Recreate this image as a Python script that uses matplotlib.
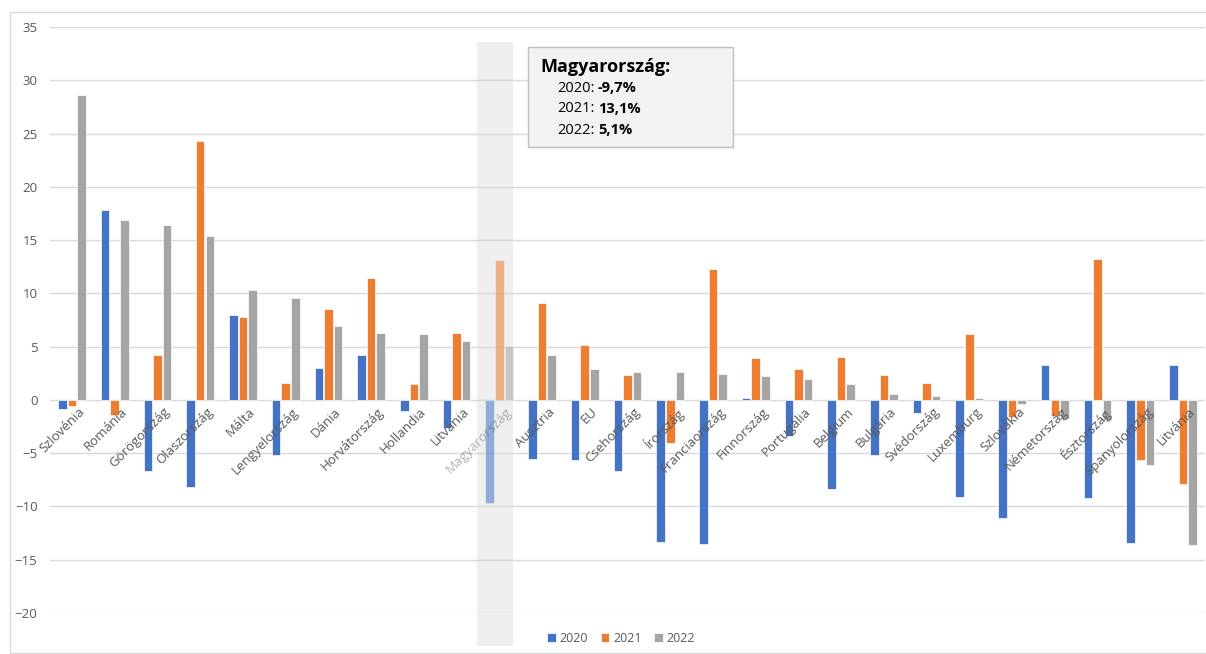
import matplotlib
matplotlib.use("Agg")
import matplotlib.pyplot as plt
import matplotlib.transforms as mtransforms
from matplotlib.patches import Rectangle
import numpy as np

plt.rcParams["font.family"] = ["Open Sans", "DejaVu Sans"]

countries = [
    "Szlovénia", "Románia", "Görögország", "Olaszország", "Málta",
    "Lengyelország", "Dánia", "Horvátország", "Hollandia", "Litvánia",
    "Magyarország", "Ausztria", "EU", "Csehország", "Írország",
    "Franciaország", "Finnország", "Portugália", "Belgium", "Bulgária",
    "Svédország", "Luxemburg", "Szlovákia", "Németország", "Észtország",
    "Spanyolország", "Litvánia",
]
v2020 = [-0.9, 17.8, -6.7, -8.2, 8.0, -5.2, 3.0, 4.2, -1.0, -2.6,
         -9.7, -5.5, -5.6, -6.7, -13.3, -13.5, 0.2, -3.4, -8.4, -5.2,
         -1.2, -9.1, -11.1, 3.3, -9.2, -13.4, 3.3]
v2021 = [-0.6, -1.4, 4.2, 24.3, 7.8, 1.6, 8.5, 11.4, 1.5, 6.3,
         13.1, 9.1, 5.2, 2.3, -4.0, 12.3, 3.9, 2.9, 4.0, 2.3,
         1.6, 6.2, -1.6, -1.5, 13.2, -5.6, -7.9]
v2022 = [28.6, 16.9, 16.4, 15.4, 10.3, 9.6, 6.9, 6.3, 6.2, 5.5,
         5.1, 4.2, 2.9, 2.6, 2.6, 2.4, 2.2, 2.0, 1.5, 0.6,
         0.4, 0.15, -0.35, -1.75, -1.9, -6.1, -13.6]
years = ["2020", "2021", "2022"]
yticks = list(range(-20, 40, 5))

highlight = "Magyarország"
colors = ["#4472C4", "#ED7D31", "#A5A5A5"]
text_grey = "#595959"

W, H = 1206, 654
fig = plt.figure(figsize=(W / 100, H / 100), dpi=100)
ax = fig.add_axes([50 / W, 1 - 613 / H, 1155 / W, 586 / H])

x = np.arange(len(countries))
hi = countries.index(highlight)
series = [v2020, v2021, v2022]
offsets = [-0.225, 0.0, 0.225]
bw = 0.2

# grey band behind the highlighted country, reaching down past the axes
band_tr = mtransforms.blended_transform_factory(ax.transData, fig.transFigure)
ax.add_patch(Rectangle((hi - 0.52, 8 / H), 0.84, 604 / H, transform=band_tr,
                       facecolor="#EFEFEF", edgecolor="none", zorder=0,
                       clip_on=False))

for vals, off, col, lab in zip(series, offsets, colors, years):
    bars = ax.bar(x + off, vals, width=bw, color=col, edgecolor="white",
                  linewidth=0.5, label=lab, zorder=2)
    bars[hi].set_alpha(0.55)

ax.set_xlim(-0.515, len(countries) - 0.485)
ax.set_ylim(-20, 35)
ax.set_yticks(yticks)
ax.set_xticks([])
ax.grid(axis="y", color="#D9D9D9", linewidth=1.0, zorder=0)
ax.set_axisbelow(True)
for s in ax.spines.values():
    s.set_visible(False)
ax.tick_params(axis="y", length=0, pad=9, labelsize=9.5, labelcolor=text_grey)

# category labels sit on the zero line, rotated
for i, name in enumerate(countries):
    a = 0.45 if i == hi else 1.0
    ax.text(i + 0.14, -0.5, name, rotation=45, rotation_mode="anchor",
            ha="right", va="top", fontsize=9.5, color=text_grey, alpha=a,
            zorder=3)

# info box for the highlighted country
fig.patches.append(Rectangle((528 / W, 1 - 147 / H), 205 / W, 100 / H,
                             transform=fig.transFigure, facecolor="#F2F2F2",
                             edgecolor="#BFBFBF", linewidth=1.0, zorder=5))
fig.text(540 / W, 1 - 67 / H, highlight + ":", fontsize=13,
         fontweight="bold", va="center", ha="left", color="black", zorder=6)
for k, (yr, vals) in enumerate(zip(years, series)):
    yy = 1 - (88 + k * 21) / H
    fig.text(557 / W, yy, yr + ":", fontsize=10.5, va="center", ha="left",
             color="black", zorder=6)
    val = f"{vals[hi]:.1f}%".replace(".", ",")
    fig.text(598 / W, yy, val, fontsize=10.5, fontweight="bold",
             va="center", ha="left", color="black", zorder=6)

# outer chart frame
fig.patches.append(Rectangle((10 / W, 1 / H), 1.0, 1 - 13 / H,
                             transform=fig.transFigure, facecolor="none",
                             edgecolor="#D9D9D9", linewidth=1.0))

leg = ax.legend(loc="center", bbox_to_anchor=(621 / W, 1 - 638 / H),
                bbox_transform=fig.transFigure, ncol=3, frameon=False,
                fontsize=9, handlelength=0.7, handleheight=0.7,
                handletextpad=0.3, columnspacing=1.0)
for t in leg.get_texts():
    t.set_color(text_grey)

fig.savefig("out.png", dpi=100)
